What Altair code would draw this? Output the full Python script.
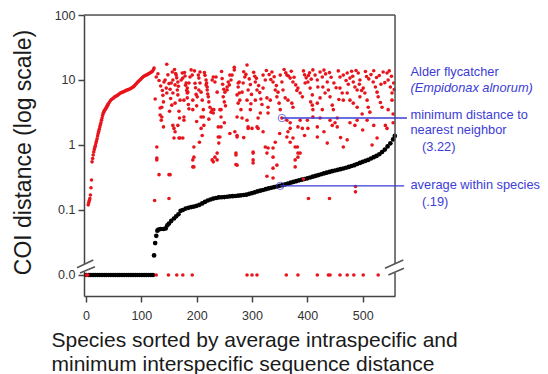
import altair as alt
import pandas as pd

# ---------------- data ----------------
# Average intraspecific distance (black), species sorted by rank
black_rank = [1, 5, 9, 13, 17, 21, 25, 29, 33, 37, 41, 45, 49, 53, 57, 61, 65, 69, 73, 77,
              81, 85, 89, 93, 97, 101, 105, 109, 113, 117, 121,
              123, 125, 127, 129, 131, 135, 140, 144, 147, 150, 154, 159, 163, 167, 171,
              175, 180, 185, 190, 195, 200, 205, 210, 215, 220,
              225, 230, 235, 240, 245, 250, 255, 260, 265, 270,
              275, 280, 285, 290, 295, 300, 305, 310, 315, 320,
              325, 330, 335, 340, 345, 350, 355, 360, 365, 370,
              375, 380, 385, 390, 395, 400, 405, 410, 415, 420,
              425, 430, 435, 440, 445, 450, 455, 460, 465, 470,
              475, 480, 485, 490, 495, 500, 505, 510, 515, 520,
              525, 530, 535, 540, 545, 550, 555, 558]
black_dist = [0, 0, 0, 0, 0, 0, 0, 0, 0, 0, 0, 0, 0, 0, 0, 0, 0, 0, 0, 0,
              0, 0, 0, 0, 0, 0, 0, 0, 0, 0, 0,
              0.02, 0.031, 0.04, 0.048, 0.05, 0.051, 0.051, 0.052, 0.058, 0.062, 0.068, 0.074, 0.08, 0.086, 0.097,
              0.1, 0.105, 0.108, 0.111, 0.113, 0.116, 0.12, 0.126, 0.133, 0.14,
              0.145, 0.15, 0.153, 0.156, 0.157, 0.158, 0.16, 0.162, 0.163, 0.164,
              0.166, 0.168, 0.17, 0.172, 0.177, 0.182, 0.187, 0.193, 0.198, 0.203,
              0.209, 0.215, 0.22, 0.225, 0.23, 0.236, 0.241, 0.248, 0.255, 0.263,
              0.27, 0.278, 0.286, 0.293, 0.3, 0.307, 0.316, 0.325, 0.334, 0.344,
              0.355, 0.365, 0.375, 0.385, 0.395, 0.405, 0.415, 0.425, 0.435, 0.447,
              0.46, 0.475, 0.49, 0.51, 0.53, 0.55, 0.57, 0.59, 0.62, 0.65,
              0.68, 0.72, 0.78, 0.85, 0.95, 1.06, 1.22, 1.38]

# Minimum interspecific distance (red): first rising curve
red_curve_rank = [1, 2, 3, 4, 5, 6, 7, 8, 9, 10, 11, 12, 13, 14, 15, 16, 17, 18, 19, 20,
                  21, 22, 23, 24, 25, 26, 27, 28, 29, 30, 31, 32, 33, 34, 35, 36, 37, 38, 39, 40,
                  42, 44, 46, 48, 50, 52, 54, 56, 58, 60, 62, 64, 66, 68, 70, 72, 74, 76, 78, 80,
                  82, 84, 86, 88, 90, 92, 94, 96, 98, 100, 102, 104, 106, 108, 110, 112, 114, 116, 118, 120,
                  122, 123]
red_curve_dist = [0, 0, 0, 0.12, 0.13, 0.14, 0.15, 0.17, 0.22, 0.29, 0.55, 0.62, 0.70, 0.78, 0.85, 0.92, 0.98, 1.07, 1.15, 1.25,
                  1.38, 1.5, 1.62, 1.75, 1.9, 2.05, 2.2, 2.4, 2.6, 2.85, 3.05, 3.2, 3.35, 3.45, 3.55, 3.68, 3.8, 3.95, 4.1, 4.25,
                  4.5, 4.8, 5.0, 5.15, 5.3, 5.5, 5.6, 5.75, 5.9, 6.1, 6.3, 6.4, 6.5, 6.6, 6.75, 6.85, 7.0, 7.1, 7.2, 7.35,
                  7.5, 7.7, 7.9, 8.2, 8.6, 9.0, 9.4, 9.7, 10.1, 10.5, 10.9, 11.3, 11.6, 11.8, 12.0, 12.3, 12.6, 12.9, 13.2, 13.6,
                  14.5, 15.3]

# red scatter, species 124-280
red_a_rank = [127, 125, 137, 137, 136, 128, 128, 141, 145, 146,
              154, 157, 163, 166, 172, 174, 177, 159, 166, 159,
              168, 175, 177, 177, 190, 188, 186, 184, 183, 195,
              206, 204, 204, 201, 208, 208, 210, 217, 219, 224,
              226, 228, 231, 235, 228, 244, 244, 244, 242, 240,
              237, 255, 259, 262, 264, 268, 273, 275, 277, 275,
              273, 273, 271]
red_a_dist = [11.1, 5.1, 3.8, 2.7, 2.4, 0.93, 0.63, 9.3, 7.5, 17.5,
              9.0, 6.3, 11.9, 9.3, 10, 12.8, 4.9, 1.8, 2.0, 1.28,
              1.28, 1.28, 2.7, 2.4, 14.3, 11.1, 9.0, 6.5, 5.3, 0.93,
              13.3, 10.7, 7.0, 5.5, 2.7, 1.8, 1.4, 10, 7.8, 3.8,
              3.2, 3.5, 3.5, 11.1, 10, 3.5, 2.7, 1.9, 1.33, 1.07,
              0.75, 7.0, 8.4, 10, 11.9, 14.3, 5.9, 7.8, 9.3, 4.4,
              2.7, 1.4, 0.75]

red_b_rank = [134, 134, 128, 132, 150, 143, 146, 156, 157, 161,
              165, 166, 170, 161, 157, 161, 170, 175, 181, 183,
              183, 192, 193, 193, 195, 195, 203, 206, 208, 210,
              212, 212, 213, 217, 219, 221, 230, 230, 233, 237,
              239, 239, 233, 230, 242, 248, 251, 255, 257, 260,
              268, 269, 273, 271, 273, 275, 277, 278, 280, 282,
              293, 300, 302, 302, 309, 315, 324, 329, 338, 338,
              345, 351, 363, 369, 374, 382, 383, 387, 391, 410,
              418, 423]
red_b_dist = [3.7, 2.9, 0.59, 0.35, 0.35, 10, 6.3, 13.3, 10, 8.4,
              7.0, 5.9, 4.9, 4.4, 2.0, 1.6, 1.28, 10.7, 9.0, 7.5,
              6.3, 11.9, 4.9, 3.5, 0.65, 0.46, 11.9, 9.0, 6.5, 4.9,
              3.5, 2.7, 2.0, 8.4, 7.0, 5.5, 3.1, 11.1, 9.3, 6.5,
              1.9, 1.33, 0.65, 0.55, 3.5, 5.5, 6.5, 7.8, 9.3, 11.9,
              15.7, 1.6, 1.33, 0.7, 0.49, 9.0, 6.3, 4.9, 3.5, 2.6,
              1.9, 1.8, 0.75, 0.53, 1.9, 3.1, 0.93, 0.9, 0.65, 0.44,
              0.49, 3.5, 2.4, 1.8, 1.28, 0.93, 0.65, 0.75, 1.8, 2.7,
              1.9, 2.6]

# red scatter, species 280-560
red_c_rank = [291, 287, 284, 282, 291, 293, 306, 309, 306, 297,
              291, 293, 311, 311, 320, 324, 320, 327, 329, 329,
              336, 338, 342, 345, 333, 351, 354, 356, 354, 363,
              369, 374, 360, 365, 372, 374, 369, 365, 363, 369,
              378, 383, 342, 338, 327, 302, 383, 387, 391, 396,
              401, 405, 409, 410, 414, 418, 419, 423, 427, 409,
              410, 418, 423, 427, 428, 432, 436, 438, 441, 445,
              447, 454, 450, 445, 459, 465, 472, 477, 483, 486,
              490, 492, 495, 459, 463, 465, 472, 477, 483, 490,
              495, 501, 504, 508, 510, 513, 519, 523, 526, 528,
              532, 535, 537, 544, 546, 550, 553, 553, 546, 541,
              544, 526, 517, 508, 490, 486, 477, 472, 465, 454,
              441, 436, 418, 401, 400, 387, 383]
red_c_dist = [17, 11.1, 9.0, 6.5, 4.9, 7.0, 9.3, 7.0, 4.9, 3.5,
              2.4, 1.8, 2.6, 1.8, 11.9, 10, 7.5, 5.3, 3.8, 3.1,
              13.3, 9.3, 7.0, 5.5, 4.9, 11.9, 9.3, 7.0, 2.6, 11.9,
              10.7, 9.3, 5.3, 4.9, 4.4, 3.8, 2.2, 1.6, 1.33, 1.1,
              0.93, 0.75, 1.1, 0.9, 0.75, 0.78, 7.5, 6.3, 5.5, 9.0,
              9.3, 7.5, 5.9, 14.3, 11.9, 10, 7.8, 13.3, 11.1, 4.1,
              3.5, 4.4, 5.3, 3.5, 7.8, 6.3, 9.3, 7.0, 5.5, 4.1,
              3.5, 2.6, 2.2, 2.0, 11.1, 11.9, 12.8, 10.7, 9.3, 7.8,
              7.0, 12.8, 10, 7.5, 6.3, 4.9, 6.3, 4.9, 4.4, 3.8,
              5.5, 7.5, 6.3, 4.9, 3.8, 3.2, 9.3, 7.8, 6.5, 5.5,
              4.5, 3.8, 13.3, 12.8, 10, 7.8, 6.3, 4.9, 3.5, 2.0,
              1.8, 1.28, 1.0, 2.4, 2.4, 2.0, 2.2, 1.2, 0.93, 1.9,
              2.4, 1.07, 1.33, 1.8, 2.4, 2.4, 1.9]

# red scatter, extra points filling the upper band
red_e_rank = [130, 132, 135, 138, 139, 140, 148, 150, 152, 153,
              155, 151, 160, 162, 164, 167, 168, 169, 178, 179,
              180, 182, 185, 186, 196, 197, 198, 199, 200, 200,
              214, 215, 218, 220, 222, 222, 245, 246, 247, 249,
              250, 252, 285, 289, 295, 297, 299, 298, 303, 305,
              308, 312, 314, 316, 318, 326, 331, 334, 340, 344,
              347, 349, 358, 361, 366, 371, 376, 379, 381, 393,
              395, 398, 402, 404, 407, 406, 430, 433, 440, 443,
              448, 452, 456, 457, 470, 474, 480, 482, 488, 494,
              498, 499, 505, 507, 511, 515, 520, 525, 530, 533,
              540, 548, 552, 556, 557, 555, 140, 205, 250, 260,
              285, 320, 350, 395, 430, 460, 500, 520, 555]
red_e_dist = [12.5, 9.8, 8.1, 6.9, 5.8, 4.6, 12.0, 8.8, 7.2, 5.2,
              4.1, 3.3, 14.5, 12.6, 10.8, 8.0, 3.3, 2.6, 13.0, 11.5,
              8.3, 6.9, 4.2, 3.6, 13.8, 8.9, 7.6, 6.0, 4.0, 2.3,
              13.0, 11.8, 9.0, 6.1, 4.6, 2.5, 13.5, 10.5, 8.6, 7.2,
              4.6, 4.0, 13.4, 12.2, 10.4, 8.5, 6.0, 4.3, 13.1, 11.4,
              10.6, 8.2, 6.4, 5.1, 4.2, 14.0, 12.1, 10.2, 11.2, 8.2,
              6.5, 4.4, 14.5, 12.9, 11.5, 13.6, 11.0, 8.4, 6.9, 13.8,
              12.0, 10.8, 11.7, 12.9, 10.3, 4.6, 14.2, 12.4, 13.0, 11.0,
              9.0, 7.6, 13.8, 5.0, 9.8, 8.6, 13.6, 11.4, 14.0, 8.6,
              6.9, 3.0, 13.5, 11.3, 10.4, 12.1, 13.9, 10.9, 11.7, 8.6,
              9.1, 13.8, 11.4, 9.0, 7.1, 3.0, 1.9, 1.1, 2.2, 1.5,
              1.3, 1.6, 1.5, 1.4, 1.6, 1.3, 1.7, 2.0, 2.2]

# red scatter, low values
red_d_rank = [124, 152, 150, 193, 193, 271, 327, 338, 393, 402,
              440, 487, 487, 302, 228, 237, 378, 378]
red_d_dist = [0.14, 0.35, 0.15, 0.46, 0.59, 0.5, 0.33, 0.31, 0.3, 0.15,
              0.15, 0.23, 0.19, 0.59, 0.59, 0.59, 0.59, 0.46]

# red points at zero distance
red_zero_rank = [127, 149, 164, 175, 192, 291, 300, 309, 362, 383,
                 418, 438, 441, 459, 472, 484, 501, 528]
red_zero_dist = [0, 0, 0, 0, 0, 0, 0, 0, 0, 0,
                 0, 0, 0, 0, 0, 0, 0, 0]

# Alder flycatcher annotations
ann_rank = [354, 351]
ann_dist = [2.6, 0.235]
ann_end = [580, 575]

x_ticks = [0, 100, 200, 300, 400, 500]
y_ticks = [0.01, 0.1, 1, 10, 100]
ZERO_AT = 0.01  # where "0.0" sits below the axis break

# ---------------- chart ----------------
FONT = "Arial, Liberation Sans, sans-serif"
BLUE = "#3c3cd6"
W, H = 311, 281

df_black = pd.DataFrame({"rank": black_rank, "dist": black_dist})
df_red = pd.DataFrame({
    "rank": red_curve_rank + red_a_rank + red_b_rank + red_c_rank + red_e_rank + red_d_rank + red_zero_rank,
    "dist": red_curve_dist + red_a_dist + red_b_dist + red_c_dist + red_e_dist + red_d_dist + red_zero_dist,
})
df_ann = pd.DataFrame({"rank": ann_rank, "dist": ann_dist, "end": ann_end})
one = pd.DataFrame({"k": [0]})

xscale = alt.Scale(domain=[-3.6, 558.4], nice=False, zero=False)
yscale = alt.Scale(type="log", domain=[0.00475, 100], nice=False)

label_expr = ("datum.value > 50 ? '100' : datum.value > 5 ? '10' : datum.value > 0.5 ? '1' : "
              "datum.value > 0.05 ? '0.1' : '0.0'")

xaxis = alt.Axis(values=x_ticks, format="d", grid=False, labelFontSize=12.5, labelColor="#333",
                 tickSize=6, tickColor="#444", tickWidth=1.5, domainColor="#444", domainWidth=1.5,
                 labelPadding=7, labelFont=FONT,
                 title=["Species sorted by average intraspecific and",
                        "minimum interspecific sequence distance"],
                 titleFont=FONT, titleFontSize=21, titleFontWeight="normal", titleColor="#1a1a1a",
                 titleAlign="left", titleX=-33, titleY=50, titleBaseline="alphabetic",
                 titleLineHeight=24, titleAngle=0)
yaxis = alt.Axis(values=y_ticks, labelExpr=label_expr, grid=False, labelFontSize=12.5,
                 labelColor="#333", tickSize=6, tickColor="#444", tickWidth=1.5,
                 domainColor="#444", domainWidth=1.5, labelPadding=3, labelFont=FONT,
                 title="COI distance (log scale)", titleFont=FONT, titleFontSize=23,
                 titleFontWeight="normal", titleColor="#1a1a1a", titleAngle=270,
                 titleX=-61, titleY=137, titleAlign="center", titleBaseline="middle")

black = alt.Chart(df_black).transform_calculate(
    plot=f"datum.dist > 0 ? datum.dist : {ZERO_AT}"
).mark_circle(color="#000000", size=22, opacity=1).encode(
    x=alt.X("rank:Q", scale=xscale, axis=xaxis),
    y=alt.Y("plot:Q", scale=yscale, axis=yaxis),
)

red = alt.Chart(df_red).transform_calculate(
    plot=f"datum.dist > 0 ? datum.dist : {ZERO_AT}"
).mark_circle(color="#e8141b", size=13, opacity=1).encode(
    x=alt.X("rank:Q", scale=xscale),
    y=alt.Y("plot:Q", scale=yscale),
)

ann_lines = alt.Chart(df_ann).mark_rule(color=BLUE, strokeWidth=1.3).encode(
    x=alt.X("rank:Q", scale=xscale), x2="end:Q",
    y=alt.Y("dist:Q", scale=yscale),
)
ann_circles = alt.Chart(df_ann).mark_point(shape="circle", size=55, color=BLUE,
                                           filled=False, strokeWidth=1).encode(
    x=alt.X("rank:Q", scale=xscale),
    y=alt.Y("dist:Q", scale=yscale),
)

# frame (top and right) and axis breaks
def rule(x, x2, y, y2, color="#555", width=1.5):
    return alt.Chart(one).mark_rule(color=color, strokeWidth=width).encode(
        x=alt.value(x), x2=alt.value(x2), y=alt.value(y), y2=alt.value(y2))

frame = [rule(0, W, 0, 0), rule(W, W, 0, H)]
breaks = [
    rule(0, 0, 249, 257, color="white", width=5),
    rule(W, W, 249, 258, color="white", width=5),
    rule(-7, 9.3, 252.7, 245), rule(-4, 11, 258, 251.7),
    rule(301, 319.3, 253.3, 245), rule(304.3, 320, 260, 253.3),
]

def label(txt, x, y, italic=False):
    return alt.Chart(one).mark_text(text=txt, align="left", baseline="middle", font=FONT,
                                    fontSize=12.8, color=BLUE,
                                    fontStyle="italic" if italic else "normal").encode(
        x=alt.value(x), y=alt.value(y))

texts = [
    label("Alder flycatcher", 326.5, 57),
    label("(Empidonax alnorum)", 326.5, 73, italic=True),
    label("minimum distance to", 326.5, 100),
    label("nearest neighbor", 326.5, 115),
    label("(3.22)", 338, 132),
    label("average within species", 326.5, 170),
    label("(.19)", 338, 187),
]

chart = alt.layer(black, red, *frame, *breaks, ann_lines, ann_circles, *texts).properties(
    width=W, height=H,
    autosize=alt.AutoSizeParams(type="none"),
    padding={"left": 76, "top": 7, "right": 145, "bottom": 78},
).configure_view(stroke=None).configure(font=FONT, background="white")

chart.save("out.html", embed_options={"renderer": "svg", "actions": False})
